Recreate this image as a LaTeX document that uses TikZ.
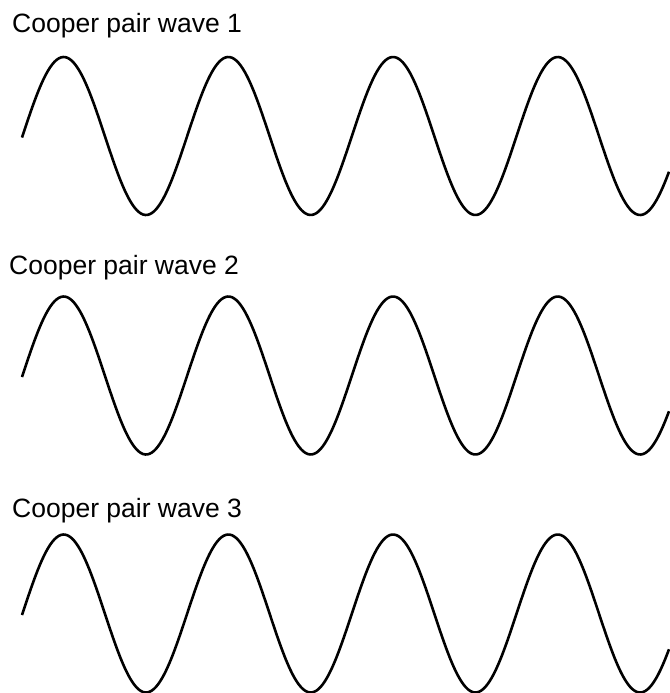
\documentclass[tikz,border=0pt]{standalone}
\usepackage{fontspec}
\setmainfont{Liberation Sans}
\begin{document}
\begin{tikzpicture}[x=1pt,y=-1pt,
  wavelabel/.style={anchor=base west,inner sep=0pt,font=\fontsize{26.5}{30}\selectfont},
  wave/.style={line width=2.6pt,black,line join=round}]
\useasboundingbox (0,0) rectangle (669,693);
\node[wavelabel] (l1) at (12,33) {Cooper pair wave 1};
\node[wavelabel] (l2) at (9,274) {Cooper pair wave 2};
\node[wavelabel] (l3) at (12,517) {Cooper pair wave 3};
\foreach \c in {136,375.5,613.5}{
  \draw[wave] plot[domain=22:669,samples=300,smooth] (\x,{\c-79*sin((\x-22.5)/164.7*360)});
}
\end{tikzpicture}
\end{document}
